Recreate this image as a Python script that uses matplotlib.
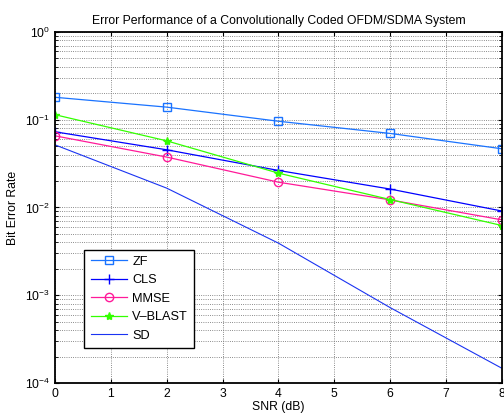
import numpy as np
import matplotlib
matplotlib.use('Agg')
import matplotlib.pyplot as plt
from matplotlib.ticker import LogLocator, NullFormatter

plt.rcParams['font.family'] = ['Liberation Sans', 'DejaVu Sans']
plt.rcParams['mathtext.fontset'] = 'custom'
plt.rcParams['mathtext.rm'] = 'Liberation Sans'

snr = [0, 2, 4, 6, 8]
ber_zf = [0.18, 0.139, 0.096, 0.0697, 0.0466]
ber_cls = [0.0728, 0.0454, 0.0264, 0.0162, 0.0091]
ber_mmse = [0.0655, 0.0375, 0.0194, 0.0122, 0.00722]
ber_vblast = [0.114, 0.0574, 0.0246, 0.0123, 0.00622]
ber_sd = [0.0517, 0.0166, 0.00392, 0.000722, 0.000147]

fig = plt.figure(figsize=(5.04, 4.15), dpi=100)
ax = fig.add_axes([0.109, 0.0771, 0.887, 0.846])

ax.semilogy(snr, ber_zf, color=(0.1, 0.45, 1.0), marker='s', ms=5.5, mfc='none', lw=0.9, label='ZF')
ax.semilogy(snr, ber_cls, color=(0.0, 0.0, 1.0), marker='+', ms=7, lw=0.9, label='CLS')
ax.semilogy(snr, ber_mmse, color=(1.0, 0.1, 0.6), marker='o', ms=6, mfc='none', lw=0.9, label='MMSE')
ax.semilogy(snr, ber_vblast, color=(0.2, 1.0, 0.0), marker='*', ms=6, lw=0.9, label='V\u2013BLAST')
ax.semilogy(snr, ber_sd, color=(0.1, 0.2, 0.95), lw=0.8, label='SD')

ax.set_xlim(0, 8)
ax.set_ylim(1e-4, 1)
ax.set_xticks(range(9))
ax.yaxis.set_major_locator(LogLocator(base=10, numticks=10))
ax.yaxis.set_minor_locator(LogLocator(base=10, subs=np.arange(2, 10), numticks=10))
ax.yaxis.set_minor_formatter(NullFormatter())
ax.grid(True, which='major', linestyle=':', color='#666666', lw=0.6)
ax.grid(True, which='minor', axis='y', linestyle=':', color='#666666', lw=0.6)
ax.tick_params(which='both', direction='in', top=True, right=True, labelsize=8.7, length=3)
ax.tick_params(which='minor', length=2)
for s in ax.spines.values():
    s.set_linewidth(1.3)

ax.set_title('Error Performance of a Convolutionally Coded OFDM/SDMA System', fontsize=8.8, pad=6)
ax.set_xlabel('SNR (dB)', fontsize=8.8, labelpad=1)
ax.set_ylabel('Bit Error Rate', fontsize=8.8, labelpad=4)

leg = ax.legend(loc='lower left', bbox_to_anchor=(0.066, 0.10), fontsize=9.2, fancybox=False,
                framealpha=1, edgecolor='black', borderpad=0.5, labelspacing=0.5, handlelength=2.8,
                handletextpad=0.45, borderaxespad=0)
leg.get_frame().set_linewidth(1.0)

fig.savefig('out.png', dpi=100)
